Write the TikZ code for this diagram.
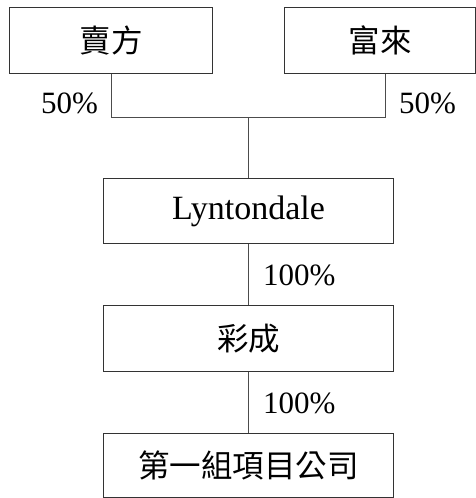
\documentclass[tikz,border=0pt]{standalone}
\usepackage{fontspec}
\setmainfont{Liberation Serif}
\newfontfamily\cjk{Noto Sans CJK TC}
\begin{document}
\begin{tikzpicture}[x=1pt,y=-1pt,
  box/.style={draw=black!80, line width=1pt, inner sep=0pt, anchor=north west},
  lbl/.style={font=\fontsize{31}{34}\selectfont, inner sep=0pt},
  big/.style={font=\fontsize{34}{38}\selectfont, inner sep=0pt},
  cj/.style={font=\fontsize{31.5}{36}\selectfont\cjk, inner sep=0pt},
  ln/.style={draw=black!70, line width=1pt}]
\useasboundingbox (0,0) rectangle (476,498);
\node[box, minimum width=203pt, minimum height=66pt] (seller) at (9,7) {};
\node[cj] at (seller.center) {賣方};
\node[box, minimum width=191pt, minimum height=66pt] (fulai) at (284,7) {};
\node[cj] at (fulai.center) {富來};
\node[box, minimum width=290pt, minimum height=65pt] (lyn) at (103,178) {};
\node[big] at (lyn.center) {Lyntondale};
\node[box, minimum width=290pt, minimum height=66pt] (cai) at (103,305) {};
\node[cj] at (cai.center) {彩成};
\node[box, minimum width=290pt, minimum height=64pt] (proj) at (103,433) {};
\node[cj] at (proj.center) {第一組項目公司};
\coordinate (jl) at (111,117);
\coordinate (jr) at (385,117);
\coordinate (jc) at (248,117);
\draw[ln] (seller.south -| jl) -- (jl) -- (jr) -- (fulai.south -| jr);
\draw[ln] (jc) -- (lyn.north -| jc);
\draw[ln] (lyn.south -| jc) -- (cai.north -| jc);
\draw[ln] (cai.south -| jc) -- (proj.north -| jc);
\node[lbl, anchor=west] (p1) at (41,103) {50\%};
\node[lbl, anchor=west] (p2) at (399,103) {50\%};
\node[lbl, anchor=west] (p3) at (263,275) {100\%};
\node[lbl, anchor=west] (p4) at (263,403) {100\%};
\end{tikzpicture}
\end{document}
